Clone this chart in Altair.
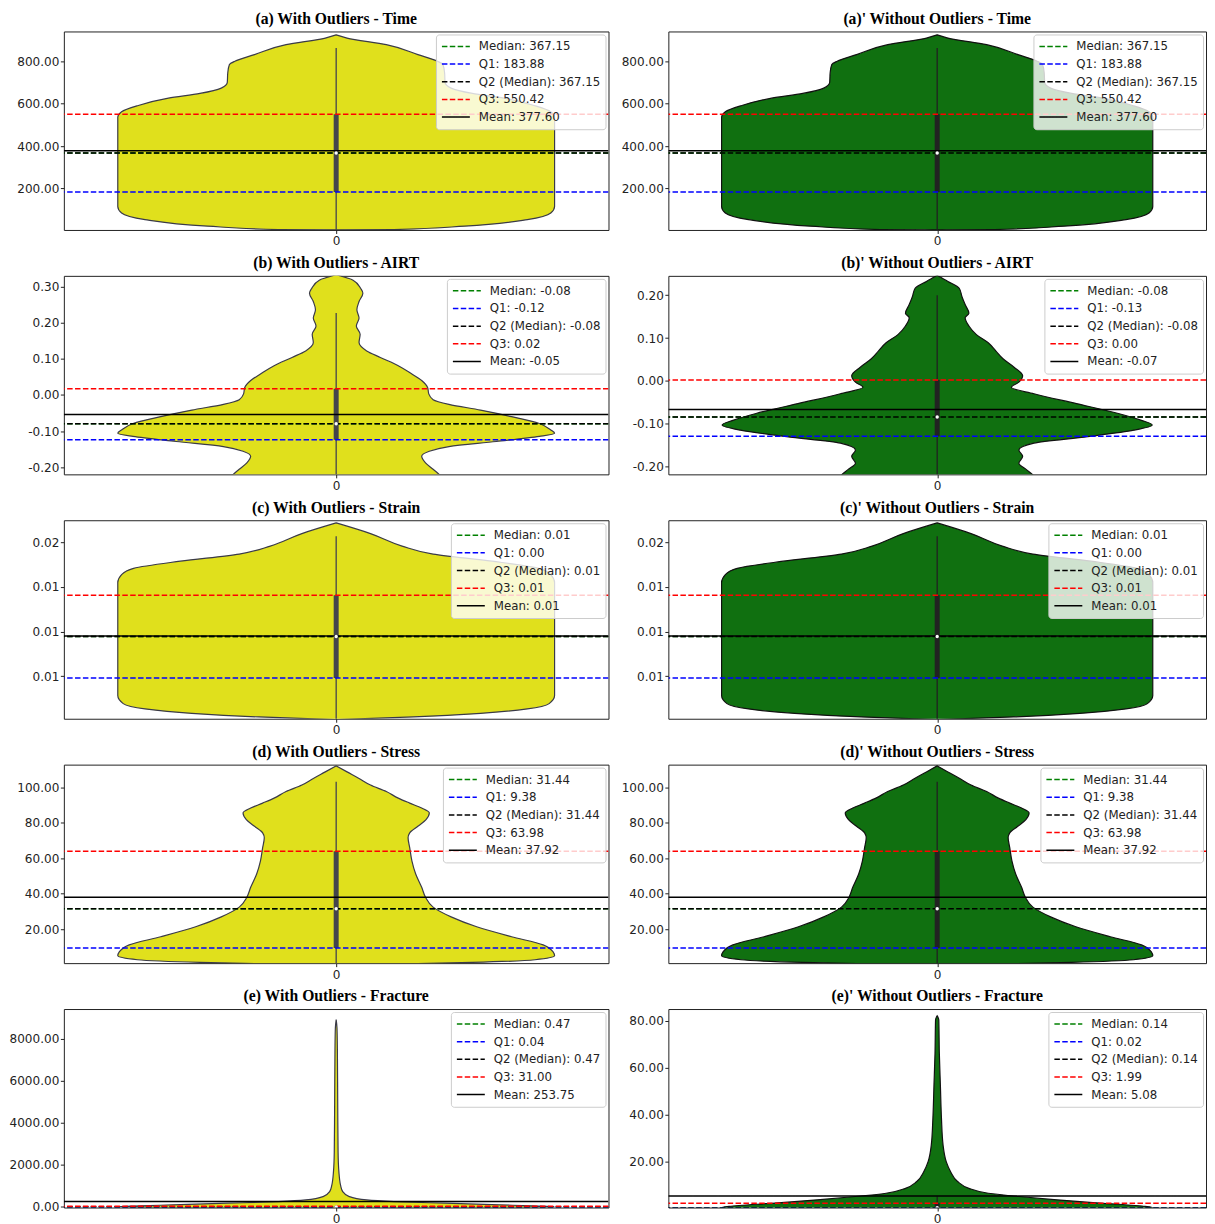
import altair as alt
import pandas as pd

# ---------------- data ----------------
TITLES = [
    "(a) With Outliers - Time", "(a)' Without Outliers - Time",
    "(b) With Outliers - AIRT", "(b)' Without Outliers - AIRT",
    "(c) With Outliers - Strain", "(c)' Without Outliers - Strain",
    "(d) With Outliers - Stress", "(d)' Without Outliers - Stress",
    "(e) With Outliers - Fracture", "(e)' Without Outliers - Fracture",
]

# violin profiles: value along y, half width (x units, plot spans -0.5..0.5)
time_v = [5, 7, 23, 54, 85, 116, 300, 520, 536, 562, 590, 626, 648, 673, 699, 746, 784, 800, 831, 878, 909, 924]
time_w = [0.0, 0.106, 0.236, 0.351, 0.394, 0.401, 0.401, 0.401, 0.401, 0.394, 0.365, 0.308, 0.250, 0.211, 0.200, 0.199, 0.196, 0.186, 0.150, 0.092, 0.020, 0.0]

airt_v = [-0.23, -0.220, -0.206, -0.188, -0.170, -0.156, -0.143, -0.129, -0.115, -0.106, -0.097, -0.079, -0.060,
          -0.042, -0.026, -0.013, 0.003, 0.020, 0.040, 0.058, 0.081, 0.104, 0.122, 0.145, 0.168, 0.191, 0.213,
          0.236, 0.259, 0.282, 0.295, 0.318, 0.333]
airt_w = [0.195, 0.189, 0.178, 0.164, 0.157, 0.171, 0.207, 0.294, 0.373, 0.401, 0.394, 0.373, 0.322,
          0.265, 0.207, 0.178, 0.170, 0.168, 0.157, 0.139, 0.114, 0.081, 0.056, 0.042, 0.044, 0.037, 0.042,
          0.038, 0.042, 0.049, 0.045, 0.031, 0.0]

airt2_v = [-0.225, -0.218, -0.207, -0.192, -0.176, -0.161, -0.145, -0.130, -0.115, -0.103, -0.092, -0.076,
           -0.053, -0.030, -0.015, -0.003, 0.012, 0.032, 0.051, 0.070, 0.089, 0.108, 0.128, 0.147, 0.158,
           0.178, 0.197, 0.216, 0.232, 0.246]
airt2_w = [0.182, 0.177, 0.166, 0.152, 0.159, 0.152, 0.180, 0.280, 0.366, 0.400, 0.380, 0.337,
           0.259, 0.180, 0.138, 0.152, 0.159, 0.143, 0.123, 0.109, 0.095, 0.073, 0.059, 0.052, 0.059,
           0.052, 0.046, 0.041, 0.020, 0.0]

strain_v = [0.0001, 0.0004, 0.0008, 0.0013, 0.0019, 0.0028, 0.0080, 0.0155, 0.0164, 0.0171, 0.0179, 0.0187,
            0.0196, 0.0210, 0.0222]
strain_w = [0.0, 0.142, 0.265, 0.351, 0.391, 0.401, 0.401, 0.401, 0.394, 0.372, 0.286, 0.178,
            0.121, 0.063, 0.0]

stress_v = [0.5, 1.2, 2.7, 4.9, 7.3, 11.1, 15.7, 21.3, 26.9, 32.4, 38.0, 43.6, 51.1, 58.5, 66.0, 71.5, 74.3,
            78.0, 81.8, 85.5, 88.3, 91.1, 93.9, 97.6, 101.3, 105.0, 108.7, 112.1]
stress_w = [0.15, 0.250, 0.365, 0.401, 0.398, 0.380, 0.322, 0.258, 0.211, 0.178, 0.164, 0.157, 0.146, 0.139,
            0.135, 0.132, 0.135, 0.150, 0.165, 0.171, 0.157, 0.135, 0.114, 0.092, 0.063, 0.042, 0.020, 0.0]

frac_v = [-30, 0, 16, 50, 96, 175, 254, 330, 490, 723, 1037, 1665, 2611, 5000, 7500, 8500, 8896]
frac_w = [0.30, 0.40, 0.40, 0.36, 0.30, 0.20, 0.106, 0.056, 0.024, 0.012, 0.008, 0.005, 0.0035, 0.0028, 0.0022,
          0.0015, 0.0]

frac2_v = [-1.0, 0.24, 0.7, 2.1, 3.5, 4.9, 6.3, 8.4, 11.3, 15.5, 19.7, 26.8, 38.1, 52.2, 66.3, 80.4, 82.1]
frac2_w = [0.40, 0.40, 0.387, 0.302, 0.223, 0.152, 0.095, 0.059, 0.038, 0.025, 0.017, 0.011, 0.008, 0.006,
           0.004, 0.003, 0.0]

# y domains and tick values
DOMAINS = [[5, 940], [5, 940], [-0.22, 0.33], [-0.218, 0.245], [0.0002, 0.0225], [0.0002, 0.0225],
           [0.8, 112.8], [0.8, 112.8], [-30, 9400], [0.2, 85]]
TICKS = [[200, 400, 600, 800], [200, 400, 600, 800],
         [-0.2, -0.1, 0.0, 0.1, 0.2, 0.3], [-0.2, -0.1, 0.0, 0.1, 0.2],
         [0.005, 0.01, 0.015, 0.02], [0.005, 0.01, 0.015, 0.02],
         [20, 40, 60, 80, 100], [20, 40, 60, 80, 100],
         [0, 2000, 4000, 6000, 8000], [20, 40, 60, 80]]

# statistics: median, Q1, Q3, mean
MEDIAN = [367.15, 367.15, -0.080, -0.084, 0.00944, 0.00944, 31.44, 31.44, 0.47, 0.14]
Q1 = [183.88, 183.88, -0.124, -0.129, 0.00478, 0.00478, 9.38, 9.38, 0.04, 0.02]
Q3 = [550.42, 550.42, 0.017, 0.002, 0.01407, 0.01407, 63.98, 63.98, 31.00, 1.99]
MEAN = [377.60, 377.60, -0.054, -0.067, 0.0095, 0.0095, 37.92, 37.92, 253.75, 5.08]
WHISK_LO = [5, 5, -0.23, -0.23, 0.0, 0.0, 0.0, 0.0, 0.0, 0.0]
WHISK_HI = [862, 862, 0.227, 0.200, 0.0207, 0.0207, 103.2, 103.2, 77.4, 4.9]

LABELS = [
    ["Median: 367.15", "Q1: 183.88", "Q2 (Median): 367.15", "Q3: 550.42", "Mean: 377.60"],
    ["Median: 367.15", "Q1: 183.88", "Q2 (Median): 367.15", "Q3: 550.42", "Mean: 377.60"],
    ["Median: -0.08", "Q1: -0.12", "Q2 (Median): -0.08", "Q3: 0.02", "Mean: -0.05"],
    ["Median: -0.08", "Q1: -0.13", "Q2 (Median): -0.08", "Q3: 0.00", "Mean: -0.07"],
    ["Median: 0.01", "Q1: 0.00", "Q2 (Median): 0.01", "Q3: 0.01", "Mean: 0.01"],
    ["Median: 0.01", "Q1: 0.00", "Q2 (Median): 0.01", "Q3: 0.01", "Mean: 0.01"],
    ["Median: 31.44", "Q1: 9.38", "Q2 (Median): 31.44", "Q3: 63.98", "Mean: 37.92"],
    ["Median: 31.44", "Q1: 9.38", "Q2 (Median): 31.44", "Q3: 63.98", "Mean: 37.92"],
    ["Median: 0.47", "Q1: 0.04", "Q2 (Median): 0.47", "Q3: 31.00", "Mean: 253.75"],
    ["Median: 0.14", "Q1: 0.02", "Q2 (Median): 0.14", "Q3: 1.99", "Mean: 5.08"],
]

PROFILES = [(time_v, time_w), (time_v, time_w), (airt_v, airt_w), (airt2_v, airt2_w),
            (strain_v, strain_w), (strain_v, strain_w), (stress_v, stress_w), (stress_v, stress_w),
            (frac_v, frac_w), (frac2_v, frac2_w)]

LINE_COLORS = ["#008000", "#0000ff", "#000000", "#ff0000", "#000000"]
LINE_DASHES = [[5.5, 2.4], [5.5, 2.4], [5.5, 2.4], [5.5, 2.4], [1, 0]]

YELLOW, GREEN = "#e0e01c", "#107010"
EDGE = {YELLOW: "#3a3a48", GREEN: "#111111"}
BOXC = {YELLOW: "#44454c", GREEN: "#222222"}

PW_L, PW_R, PH = 546, 539, 199
EXT_L, EXT_R = 54, 52
LABEL_EXPR = "replace(format(datum.value, '.2f'), '\u2212', '-')"


def make_panel(i, width, ext):
    fill = YELLOW if i % 2 == 0 else GREEN
    pv, pw = PROFILES[i]
    ysc = alt.Scale(domain=DOMAINS[i], nice=False, zero=False)
    yax = alt.Axis(values=TICKS[i], labelExpr=LABEL_EXPR, title=None, minExtent=ext, maxExtent=ext)
    xsc = alt.Scale(domain=[-0.5, 0.5], nice=False, zero=False)
    xax = alt.Axis(values=[0], format="d", title=None, minExtent=15, maxExtent=15)

    def Y(f):
        return alt.Y(f, type="quantitative", scale=ysc, axis=yax)

    vdf = pd.DataFrame({"v": pv, "lo": [-w for w in pw], "hi": pw})
    violin = alt.Chart(vdf).mark_area(
        orient="horizontal", interpolate="monotone", fill=fill, stroke=EDGE[fill],
        strokeWidth=1.2, clip=True
    ).encode(y=Y("v"), x=alt.X("lo", type="quantitative", scale=xsc, axis=xax), x2="hi")

    bdf = pd.DataFrame({"wlo": [WHISK_LO[i]], "whi": [WHISK_HI[i]], "q1": [Q1[i]], "q3": [Q3[i]],
                        "med": [MEDIAN[i]]})
    whisker = alt.Chart(bdf).mark_rule(color=BOXC[fill], strokeWidth=1.3, clip=True).encode(
        x=alt.datum(0), y=Y("wlo"), y2="whi")
    box = alt.Chart(bdf).mark_rule(color=BOXC[fill], strokeWidth=5, clip=True).encode(
        x=alt.datum(0), y=Y("q1"), y2="q3")
    dot = alt.Chart(bdf).mark_point(filled=True, color="white", size=12, opacity=1, clip=True).encode(
        x=alt.datum(0), y=Y("med"))

    labels = LABELS[i]
    ldf = pd.DataFrame({"label": labels, "val": [MEDIAN[i], Q1[i], MEDIAN[i], Q3[i], MEAN[i]]})
    lines = alt.Chart(ldf).mark_rule(strokeWidth=1.5, clip=True).encode(
        y=Y("val"),
        color=alt.Color("label:N", scale=alt.Scale(domain=labels, range=LINE_COLORS),
                        legend=alt.Legend(title=None)),
        strokeDash=alt.StrokeDash("label:N", scale=alt.Scale(domain=labels, range=LINE_DASHES),
                                  legend=alt.Legend(title=None)),
    )
    return alt.layer(violin, whisker, box, lines, dot).properties(
        width=width, height=PH,
        title=alt.TitleParams(TITLES[i], font="Liberation Serif", fontSize=15.7, fontWeight="bold",
                              offset=4, frame="group", anchor="middle", color="black"),
    )


rows = []
for r in range(5):
    row = alt.hconcat(make_panel(2 * r, PW_L, EXT_L), make_panel(2 * r + 1, PW_R, EXT_R),
                      spacing=6).resolve_scale(
        color="independent", strokeDash="independent").resolve_legend(
        color="independent", strokeDash="independent")
    rows.append(row)

chart = alt.vconcat(*rows, spacing=6).resolve_scale(
    color="independent", strokeDash="independent").resolve_legend(
    color="independent", strokeDash="independent").properties(
    padding={"left": 0, "top": 0, "right": 0, "bottom": 0}
).configure_view(stroke="#222222", strokeWidth=1).configure_axis(
    domain=False, grid=False, tickSize=3.5, tickColor="#222222", labelFont="DejaVu Sans",
    labelFontSize=12.1, labelColor="#222222", labelPadding=1.5
).configure_legend(
    orient="top-right", offset=3, fillColor="rgba(255,255,255,0.8)", strokeColor="#cccccc",
    cornerRadius=3, padding=5, labelFont="DejaVu Sans", labelFontSize=11.8, labelColor="#222222",
    symbolType="stroke", symbolSize=784, symbolStrokeWidth=1.5, clipHeight=14, rowPadding=3.7,
    labelOffset=8
)

chart.save("out.html", embed_options={"renderer": "svg", "actions": False})
